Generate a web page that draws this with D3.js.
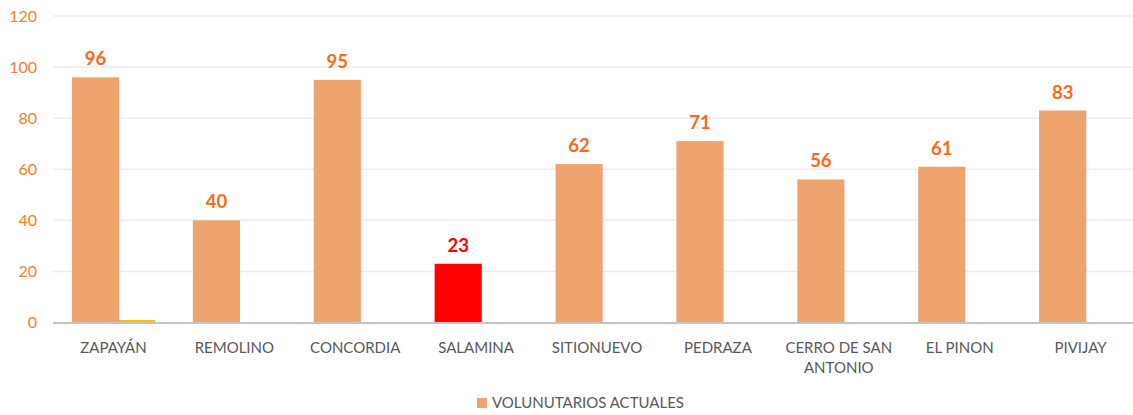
<!DOCTYPE html>
<meta charset="utf-8">
<head>
    <title>Voluntarios actuales</title>
    <script src="https://cdn.jsdelivr.net/npm/d3@7"></script>
    <style>
        body { margin: 0; background: #fff; }
        text { font-family: Lato, "Open Sans", sans-serif; }
    </style>
</head>
<body>
<div id="chart"></div>
<script>
    // data
    var municipios = ["ZAPAYÁN", "REMOLINO", "CONCORDIA", "SALAMINA", "SITIONUEVO", "PEDRAZA", "CERRO DE SAN ANTONIO", "EL PINON", "PIVIJAY"];
    var voluntarios = [96, 40, 95, 23, 62, 71, 56, 61, 83];
    var segundaSerie = [1, 0, 0, 0, 0, 0, 0, 0, 0];
    var yTicks = [0, 20, 40, 60, 80, 100, 120];
    var serieNombre = "VOLUNUTARIOS ACTUALES";

    var w = 1133, h = 415;
    var svg = d3.select("#chart").append("svg")
        .attr("width", w).attr("height", h);

    var x = d3.scaleBand().domain(municipios).range([53, 1141]).padding(0);
    var y = d3.scaleLinear().domain([0, 120]).range([322.5, 16]);
    var bw = x.bandwidth();

    // gridlines
    svg.append("g").selectAll("line")
        .data(yTicks.filter(function(d){ return d > 0; }))
        .enter().append("line")
        .attr("x1", 53).attr("x2", w)
        .attr("y1", function(d){ return y(d); })
        .attr("y2", function(d){ return y(d); })
        .attr("stroke", "#ececec").attr("stroke-width", 1.5);

    // y labels
    svg.append("g").selectAll("text")
        .data(yTicks).enter().append("text")
        .attr("x", 37).attr("y", function(d){ return y(d); })
        .attr("dy", "0.35em")
        .attr("text-anchor", "end")
        .attr("fill", "#f47d30")
        .style("font-size", "16px")
        .text(function(d){ return d; });

    // second (tiny) series
    svg.append("g").selectAll("rect")
        .data(segundaSerie).enter().append("rect")
        .attr("x", function(d, i){ return x(municipios[i]) + bw * 0.455; })
        .attr("width", bw * 0.39)
        .attr("y", function(d){ return y(d); })
        .attr("height", function(d){ return y(0) - y(d); })
        .attr("fill", "#ffc000");

    // main bars
    svg.append("g").selectAll("rect")
        .data(voluntarios).enter().append("rect")
        .attr("x", function(d, i){ return x(municipios[i]) + bw * 0.157; })
        .attr("width", bw * 0.39)
        .attr("y", function(d){ return y(d); })
        .attr("height", function(d){ return y(0) - y(d); })
        .attr("fill", function(d, i){ return municipios[i] == "SALAMINA" ? "#ff0000" : "#efa36d"; });

    // value labels
    svg.append("g").selectAll("text")
        .data(voluntarios).enter().append("text")
        .attr("x", function(d, i){ return x(municipios[i]) + bw * 0.352; })
        .attr("y", function(d){ return y(d) - 12; })
        .attr("text-anchor", "middle")
        .attr("fill", function(d, i){ return municipios[i] == "SALAMINA" ? "#ff0000" : "#fa6a14"; })
        .style("font-size", "18.5px").style("font-weight", "bold")
        .text(function(d){ return d; });

    // baseline
    svg.append("line")
        .attr("x1", 53).attr("x2", w)
        .attr("y1", y(0) + 0.5).attr("y2", y(0) + 0.5)
        .attr("stroke", "#c4c4c4").attr("stroke-width", 2);

    // category labels (wrap long ones)
    var cat = svg.append("g").selectAll("text")
        .data(municipios).enter().append("text")
        .attr("x", function(d){ return x(d) + bw / 2; })
        .attr("y", 353)
        .attr("text-anchor", "middle")
        .attr("fill", "#595959")
        .style("font-size", "15px");
    cat.each(function(d){
        var lines = d == "CERRO DE SAN ANTONIO" ? ["CERRO DE SAN", "ANTONIO"] : [d];
        var t = d3.select(this);
        lines.forEach(function(l, k){
            t.append("tspan").attr("x", x(d) + bw / 2).attr("dy", k == 0 ? 0 : "1.3em").text(l);
        });
    });

    // legend
    var leg = svg.append("g").attr("transform", "translate(477,398)");
    leg.append("rect").attr("width", 10).attr("height", 10).attr("fill", "#efa36d");
    leg.append("text").attr("x", 15).attr("y", 5).attr("dy", "0.35em")
        .attr("fill", "#595959").style("font-size", "15px")
        .text(serieNombre);
</script>
</body>
</html>
